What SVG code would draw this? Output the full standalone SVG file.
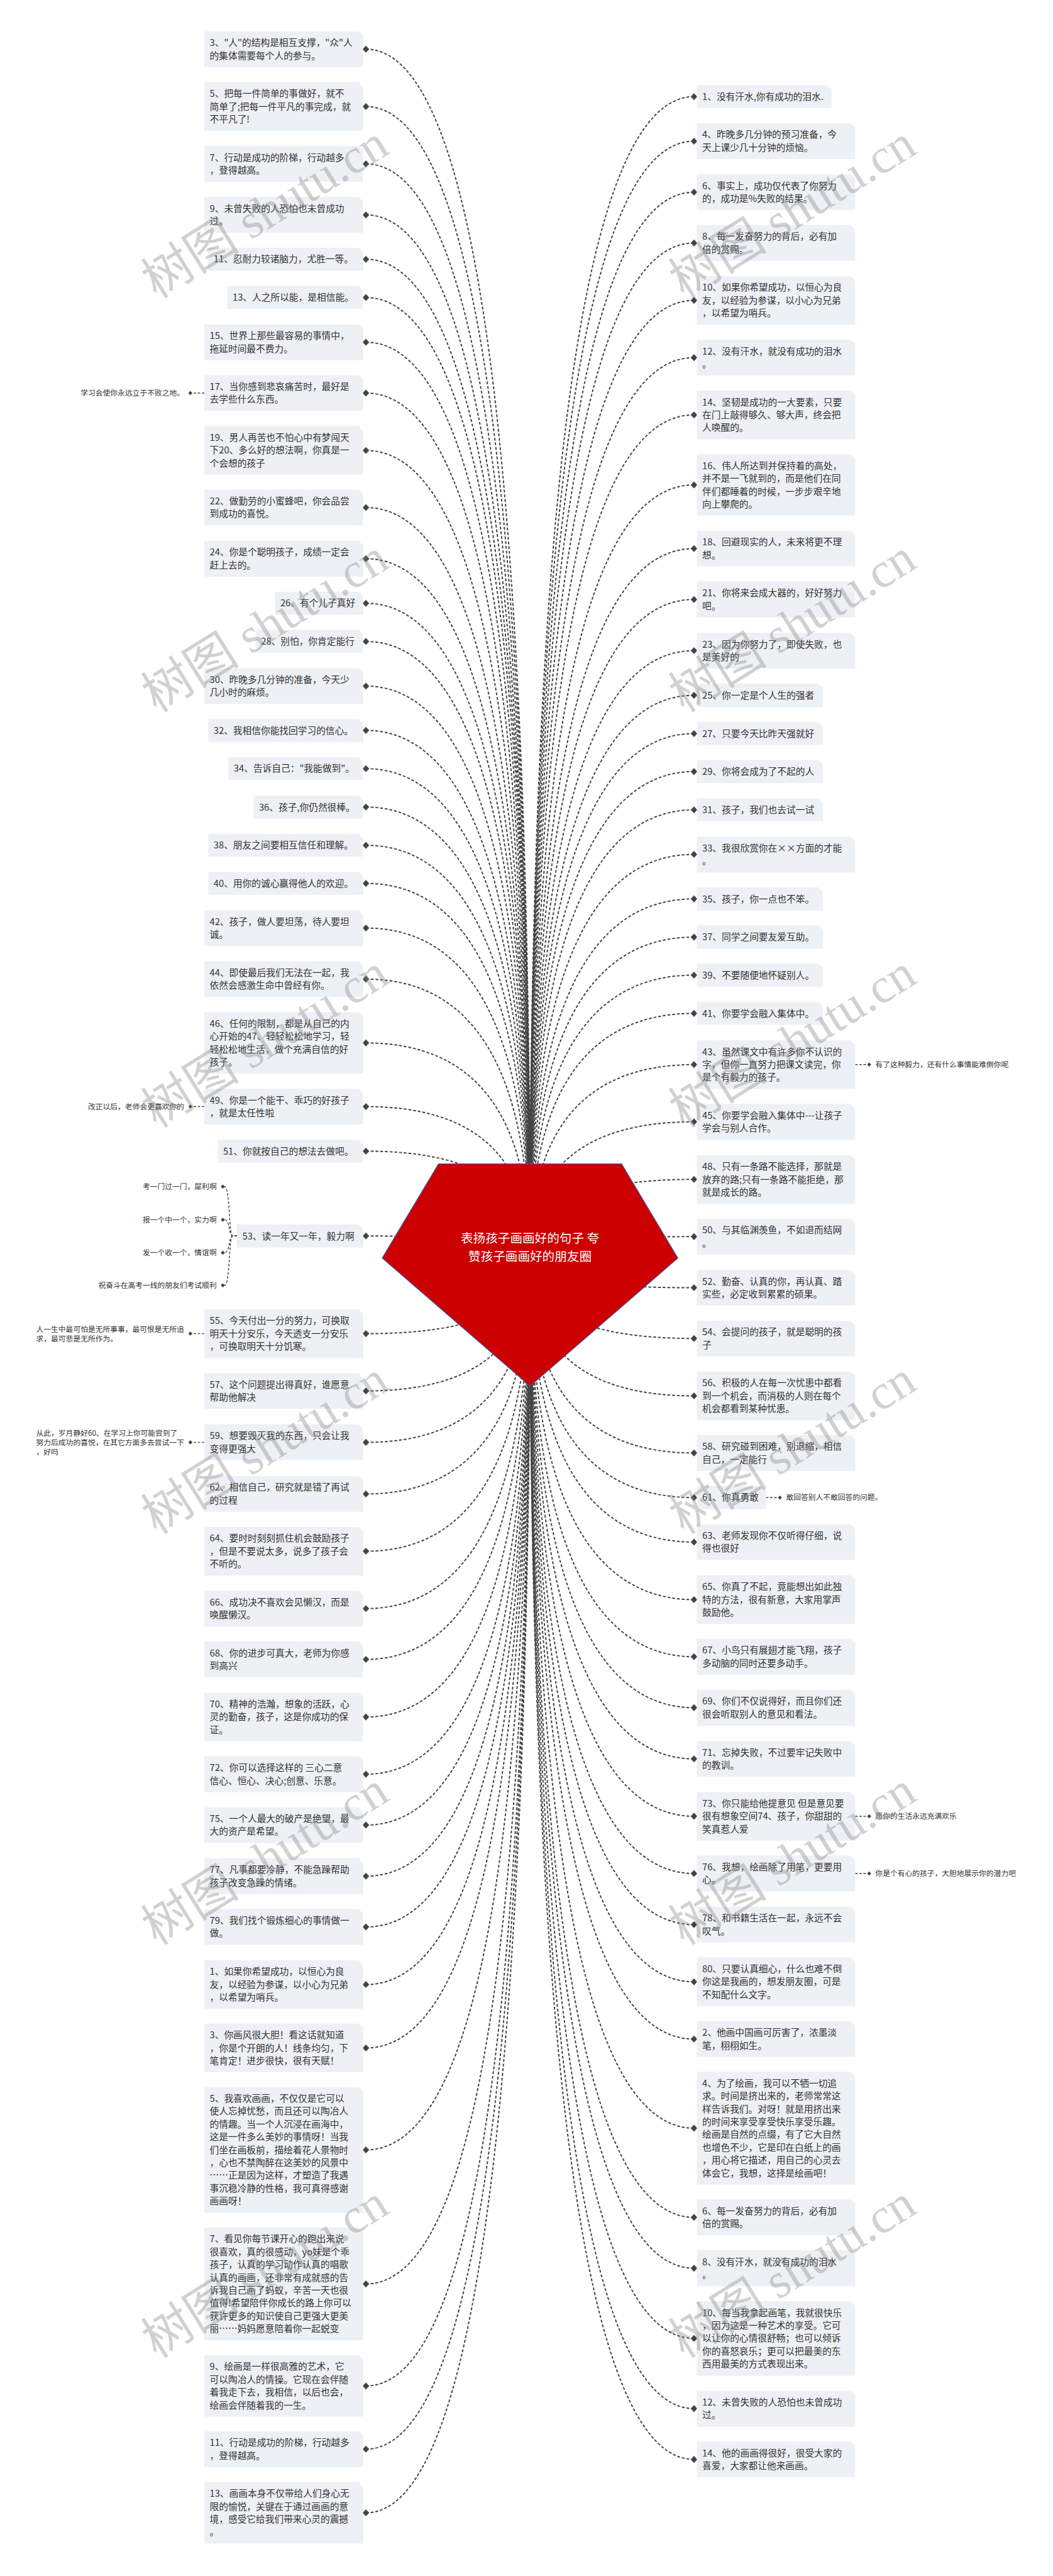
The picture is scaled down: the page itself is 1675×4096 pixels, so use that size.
<svg xmlns="http://www.w3.org/2000/svg" xmlns:xlink="http://www.w3.org/1999/xlink" width="1675" height="4096" viewBox="0 0 1675 4096">
<style>
.n{fill:#edf0f4}
text{font-family:"Noto Sans CJK SC","Noto Sans",sans-serif;fill:#333}
.t{font-size:22.5px}
.s{font-size:18px}
.c{fill:none;stroke:#444;stroke-width:3;stroke-dasharray:7 4.5}
.sc{fill:none;stroke:#444;stroke-width:2.2;stroke-dasharray:6 4}
.dm{fill:#444}
.ti{font-size:30px;fill:#fff}
.wm text{font-family:"Liberation Serif","Noto Sans CJK SC",serif;font-size:120px;fill:#888;opacity:.38}
</style>
<defs>
<path id="d" d="M-8 0L0-8.5L8 0L0 8.5Z"/>
<path id="sd" d="M-5 0L0-5L5 0L0 5Z"/>
</defs>
<rect width="1675" height="4096" fill="#fff"/>
<g transform="scale(0.654)">
<g id="connectors" class="c">
<path d="M890 119.5Q1289 119.5 1289 3059"/><path d="M890 259Q1289 259 1289 3059"/><path d="M890 398.5Q1289 398.5 1289 3059"/><path d="M890 522.5Q1289 522.5 1289 3059"/><path d="M890 630.3Q1289 630.3 1289 3059"/><path d="M890 723.4Q1289 723.4 1289 3059"/><path d="M890 832Q1289 832 1289 3059"/><path d="M890 955.6Q1289 955.6 1289 3059"/><path d="M890 1095.2Q1289 1095.2 1289 3059"/><path d="M890 1234Q1289 1234 1289 3059"/><path d="M890 1358.4Q1289 1358.4 1289 3059"/><path d="M890 1466.7Q1289 1466.7 1289 3059"/><path d="M890 1559.5Q1289 1559.5 1289 3059"/><path d="M890 1668.1Q1289 1668.1 1289 3059"/><path d="M890 1775.8Q1289 1775.8 1289 3059"/><path d="M890 1868.8Q1289 1868.8 1289 3059"/><path d="M890 1962.2Q1289 1962.2 1289 3059"/><path d="M890 2055.2Q1289 2055.2 1289 3059"/><path d="M890 2147.8Q1289 2147.8 1289 3059"/><path d="M890 2256.3Q1289 2256.3 1289 3059"/><path d="M890 2380.5Q1289 2380.5 1289 3059"/><path d="M890 2535.7Q1289 2535.7 1289 3059"/><path d="M890 2690.5Q1289 2690.5 1289 3059"/><path d="M890 2798.8Q1289 2798.8 1289 3059"/><path d="M890 3005Q1289 3005 1289 3059"/><path d="M890 3242.5Q1289 3242.5 1289 3059"/><path d="M890 3381.8Q1289 3381.8 1289 3059"/><path d="M890 3506.7Q1289 3506.7 1289 3059"/><path d="M890 3632.2Q1289 3632.2 1289 3059"/><path d="M890 3771.4Q1289 3771.4 1289 3059"/><path d="M890 3910.9Q1289 3910.9 1289 3059"/><path d="M890 4034.5Q1289 4034.5 1289 3059"/><path d="M890 4174.5Q1289 4174.5 1289 3059"/><path d="M890 4313.6Q1289 4313.6 1289 3059"/><path d="M890 4437.2Q1289 4437.2 1289 3059"/><path d="M890 4561.5Q1289 4561.5 1289 3059"/><path d="M890 4685.1Q1289 4685.1 1289 3059"/><path d="M890 4825Q1289 4825 1289 3059"/><path d="M890 4979.2Q1289 4979.2 1289 3059"/><path d="M890 5227Q1289 5227 1289 3059"/><path d="M890 5552.9Q1289 5552.9 1289 3059"/><path d="M890 5801Q1289 5801 1289 3059"/><path d="M890 5954.6Q1289 5954.6 1289 3059"/><path d="M890 6109.4Q1289 6109.4 1289 3059"/>
<path d="M1688 235Q1289 235 1289 3059"/><path d="M1688 343.2Q1289 343.2 1289 3059"/><path d="M1688 467.2Q1289 467.2 1289 3059"/><path d="M1688 590.8Q1289 590.8 1289 3059"/><path d="M1688 730.3Q1289 730.3 1289 3059"/><path d="M1688 869.5Q1289 869.5 1289 3059"/><path d="M1688 1008.7Q1289 1008.7 1289 3059"/><path d="M1688 1179Q1289 1179 1289 3059"/><path d="M1688 1333.8Q1289 1333.8 1289 3059"/><path d="M1688 1457.4Q1289 1457.4 1289 3059"/><path d="M1688 1581.9Q1289 1581.9 1289 3059"/><path d="M1688 1690.5Q1289 1690.5 1289 3059"/><path d="M1688 1783.6Q1289 1783.6 1289 3059"/><path d="M1688 1876Q1289 1876 1289 3059"/><path d="M1688 1969Q1289 1969 1289 3059"/><path d="M1688 2077.3Q1289 2077.3 1289 3059"/><path d="M1688 2185.5Q1289 2185.5 1289 3059"/><path d="M1688 2278.4Q1289 2278.4 1289 3059"/><path d="M1688 2370.8Q1289 2370.8 1289 3059"/><path d="M1688 2463.8Q1289 2463.8 1289 3059"/><path d="M1688 2588.4Q1289 2588.4 1289 3059"/><path d="M1688 2727.5Q1289 2727.5 1289 3059"/><path d="M1688 2867.4Q1289 2867.4 1289 3059"/><path d="M1688 3006.6Q1289 3006.6 1289 3059"/><path d="M1688 3130.8Q1289 3130.8 1289 3059"/><path d="M1688 3254.2Q1289 3254.2 1289 3059"/><path d="M1688 3393.8Q1289 3393.8 1289 3059"/><path d="M1688 3532.6Q1289 3532.6 1289 3059"/><path d="M1688 3641Q1289 3641 1289 3059"/><path d="M1688 3749.2Q1289 3749.2 1289 3059"/><path d="M1688 3889.1Q1289 3889.1 1289 3059"/><path d="M1688 4028Q1289 4028 1289 3059"/><path d="M1688 4151.9Q1289 4151.9 1289 3059"/><path d="M1688 4276.3Q1289 4276.3 1289 3059"/><path d="M1688 4415.8Q1289 4415.8 1289 3059"/><path d="M1688 4555Q1289 4555 1289 3059"/><path d="M1688 4679.2Q1289 4679.2 1289 3059"/><path d="M1688 4818.4Q1289 4818.4 1289 3059"/><path d="M1688 4957.6Q1289 4957.6 1289 3059"/><path d="M1688 5174.2Q1289 5174.2 1289 3059"/><path d="M1688 5391.1Q1289 5391.1 1289 3059"/><path d="M1688 5514.7Q1289 5514.7 1289 3059"/><path d="M1688 5685.3Q1289 5685.3 1289 3059"/><path d="M1688 5856Q1289 5856 1289 3059"/><path d="M1688 5979.6Q1289 5979.6 1289 3059"/>
<g class="sc">
<path d="M497 955.6H467"/><path d="M497 2690.5H467"/><path d="M497 3242.5H467"/><path d="M497 3506.7H467"/>
<path d="M576.5 3005H566C556 3005 560 2885 546 2885"/><path d="M576.5 3005H566C556 3005 560 2965.7 546 2965.7"/><path d="M576.5 3005H566C556 3005 560 3045.7 546 3045.7"/><path d="M576.5 3005H566C556 3005 560 3125 546 3125"/>
<path d="M2080 2588.4H2110"/><path d="M1863 3641H1893"/><path d="M2080 4415.8H2110"/><path d="M2080 4555H2110"/>
</g>
<g class="dm" stroke="none">
<use href="#d" x="890" y="119.5"/><use href="#d" x="890" y="259"/><use href="#d" x="890" y="398.5"/><use href="#d" x="890" y="522.5"/><use href="#d" x="890" y="630.3"/><use href="#d" x="890" y="723.4"/><use href="#d" x="890" y="832"/><use href="#d" x="890" y="955.6"/><use href="#d" x="890" y="1095.2"/><use href="#d" x="890" y="1234"/><use href="#d" x="890" y="1358.4"/><use href="#d" x="890" y="1466.7"/><use href="#d" x="890" y="1559.5"/><use href="#d" x="890" y="1668.1"/><use href="#d" x="890" y="1775.8"/><use href="#d" x="890" y="1868.8"/><use href="#d" x="890" y="1962.2"/><use href="#d" x="890" y="2055.2"/><use href="#d" x="890" y="2147.8"/><use href="#d" x="890" y="2256.3"/><use href="#d" x="890" y="2380.5"/><use href="#d" x="890" y="2535.7"/><use href="#d" x="890" y="2690.5"/><use href="#d" x="890" y="2798.8"/><use href="#d" x="890" y="3005"/><use href="#d" x="890" y="3242.5"/><use href="#d" x="890" y="3381.8"/><use href="#d" x="890" y="3506.7"/><use href="#d" x="890" y="3632.2"/><use href="#d" x="890" y="3771.4"/><use href="#d" x="890" y="3910.9"/><use href="#d" x="890" y="4034.5"/><use href="#d" x="890" y="4174.5"/><use href="#d" x="890" y="4313.6"/><use href="#d" x="890" y="4437.2"/><use href="#d" x="890" y="4561.5"/><use href="#d" x="890" y="4685.1"/><use href="#d" x="890" y="4825"/><use href="#d" x="890" y="4979.2"/><use href="#d" x="890" y="5227"/><use href="#d" x="890" y="5552.9"/><use href="#d" x="890" y="5801"/><use href="#d" x="890" y="5954.6"/><use href="#d" x="890" y="6109.4"/>
<use href="#d" x="1688" y="235"/><use href="#d" x="1688" y="343.2"/><use href="#d" x="1688" y="467.2"/><use href="#d" x="1688" y="590.8"/><use href="#d" x="1688" y="730.3"/><use href="#d" x="1688" y="869.5"/><use href="#d" x="1688" y="1008.7"/><use href="#d" x="1688" y="1179"/><use href="#d" x="1688" y="1333.8"/><use href="#d" x="1688" y="1457.4"/><use href="#d" x="1688" y="1581.9"/><use href="#d" x="1688" y="1690.5"/><use href="#d" x="1688" y="1783.6"/><use href="#d" x="1688" y="1876"/><use href="#d" x="1688" y="1969"/><use href="#d" x="1688" y="2077.3"/><use href="#d" x="1688" y="2185.5"/><use href="#d" x="1688" y="2278.4"/><use href="#d" x="1688" y="2370.8"/><use href="#d" x="1688" y="2463.8"/><use href="#d" x="1688" y="2588.4"/><use href="#d" x="1688" y="2727.5"/><use href="#d" x="1688" y="2867.4"/><use href="#d" x="1688" y="3006.6"/><use href="#d" x="1688" y="3130.8"/><use href="#d" x="1688" y="3254.2"/><use href="#d" x="1688" y="3393.8"/><use href="#d" x="1688" y="3532.6"/><use href="#d" x="1688" y="3641"/><use href="#d" x="1688" y="3749.2"/><use href="#d" x="1688" y="3889.1"/><use href="#d" x="1688" y="4028"/><use href="#d" x="1688" y="4151.9"/><use href="#d" x="1688" y="4276.3"/><use href="#d" x="1688" y="4415.8"/><use href="#d" x="1688" y="4555"/><use href="#d" x="1688" y="4679.2"/><use href="#d" x="1688" y="4818.4"/><use href="#d" x="1688" y="4957.6"/><use href="#d" x="1688" y="5174.2"/><use href="#d" x="1688" y="5391.1"/><use href="#d" x="1688" y="5514.7"/><use href="#d" x="1688" y="5685.3"/><use href="#d" x="1688" y="5856"/><use href="#d" x="1688" y="5979.6"/>
<use href="#sd" x="463" y="955.6"/><use href="#sd" x="463" y="2690.5"/><use href="#sd" x="463" y="3242.5"/><use href="#sd" x="463" y="3506.7"/>
<use href="#sd" x="542" y="2885"/><use href="#sd" x="542" y="2965.7"/><use href="#sd" x="542" y="3045.7"/><use href="#sd" x="542" y="3125"/>
<use href="#sd" x="2114" y="2588.4"/><use href="#sd" x="1897" y="3641"/><use href="#sd" x="2114" y="4415.8"/><use href="#sd" x="2114" y="4555"/>
</g>
</g>

<g id="root">
<polygon points="1066.6,2829.7 1511.8,2829.7 1648.7,3058.7 1289.2,3370 929.7,3058.7" fill="#cc0000" stroke="#4b4f9c" stroke-width="2"/>
<text class="ti" x="1289" y="3021" text-anchor="middle">表扬孩子画画好的句子  夸</text>
<text class="ti" x="1289" y="3066" text-anchor="middle">赞孩子画画好的朋友圈</text>
</g>

<g id="left-nodes" class="t">
<g id="n-L3"><path class="n" d="M497 76H872L883 87V163H497Z"/><text x="510" y="112">3、"人"的结构是相互支撑，"众"人<tspan x="510" dy="31.2">的集体需要每个人的参与。</tspan></text></g>
<g id="n-L5"><path class="n" d="M497 200H872L883 211V318H497Z"/><text x="510" y="235.8">5、把每一件简单的事做好，就不<tspan x="510" dy="31.2">简单了;把每一件平凡的事完成，就</tspan><tspan x="510" dy="31.2">不平凡了!</tspan></text></g>
<g id="n-L7"><path class="n" d="M497 355H872L883 366V442H497Z"/><text x="510" y="390.9">7、行动是成功的阶梯，行动越多<tspan x="510" dy="31.2">，登得越高。</tspan></text></g>
<g id="n-L9"><path class="n" d="M497 479H872L883 490V566H497Z"/><text x="510" y="514.9">9、未曾失败的人恐怕也未曾成功<tspan x="510" dy="31.2">过。</tspan></text></g>
<g id="n-L11"><path class="n" d="M506.6 602.5H872L883 613.5V658H506.6Z"/><text x="519.6" y="638.3">11、忍耐力较诸脑力，尤胜一等。</text></g>
<g id="n-L13"><path class="n" d="M552.8 695.5H872L883 706.5V751.3H552.8Z"/><text x="565.8" y="731.4">13、人之所以能，是相信能。</text></g>
<g id="n-L15"><path class="n" d="M497 788.5H872L883 799.5V875.5H497Z"/><text x="510" y="824.4">15、世界上那些最容易的事情中，<tspan x="510" dy="31.2">拖延时间最不费力。</tspan></text></g>
<g id="n-L17"><path class="n" d="M497 912H872L883 923V999H497Z"/><text x="510" y="948">17、当你感到悲哀痛苦时，最好是<tspan x="510" dy="31.2">去学些什么东西。</tspan></text><text class="s" x="448" y="962" text-anchor="end">学习会使你永远立于不败之地。</text></g>
<g id="n-L19"><path class="n" d="M497 1036H872L883 1047V1154H497Z"/><text x="510" y="1072">19、男人再苦也不怕心中有梦闯天<tspan x="510" dy="31.2">下20、多么好的想法啊，你真是一</tspan><tspan x="510" dy="31.2">个会想的孩子</tspan></text></g>
<g id="n-L22"><path class="n" d="M497 1190.5H872L883 1201.5V1277.5H497Z"/><text x="510" y="1226.4">22、做勤劳的小蜜蜂吧，你会品尝<tspan x="510" dy="31.2">到成功的喜悦。</tspan></text></g>
<g id="n-L24"><path class="n" d="M497 1315H872L883 1326V1402H497Z"/><text x="510" y="1350.8">24、你是个聪明孩子，成绩一定会<tspan x="510" dy="31.2">赶上去的。</tspan></text></g>
<g id="n-L26"><path class="n" d="M668.8 1439H872L883 1450V1494.5H668.8Z"/><text x="681.8" y="1474.7">26、有个儿子真好</text></g>
<g id="n-L28"><path class="n" d="M621.9 1531.5H872L883 1542.5V1587.5H621.9Z"/><text x="634.9" y="1567.5">28、别怕，你肯定能行</text></g>
<g id="n-L30"><path class="n" d="M497 1624.5H872L883 1635.5V1711.5H497Z"/><text x="510" y="1660.5">30、昨晚多几分钟的准备，今天少<tspan x="510" dy="31.2">几小时的麻烦。</tspan></text></g>
<g id="n-L32"><path class="n" d="M506.6 1748H872L883 1759V1803.5H506.6Z"/><text x="519.6" y="1783.8">32、我相信你能找回学习的信心。</text></g>
<g id="n-L34"><path class="n" d="M555.6 1841H872L883 1852V1896.5H555.6Z"/><text x="568.6" y="1876.8">34、告诉自己："我能做到"。</text></g>
<g id="n-L36"><path class="n" d="M616.9 1934.5H872L883 1945.5V1990H616.9Z"/><text x="629.9" y="1970.2">36、孩子,你仍然很棒。</text></g>
<g id="n-L38"><path class="n" d="M506.6 2027.5H872L883 2038.5V2083H506.6Z"/><text x="519.6" y="2063.2">38、朋友之间要相互信任和理解。</text></g>
<g id="n-L40"><path class="n" d="M506.6 2120H872L883 2131V2175.5H506.6Z"/><text x="519.6" y="2155.8">40、用你的诚心赢得他人的欢迎。</text></g>
<g id="n-L42"><path class="n" d="M497 2213H872L883 2224V2300H497Z"/><text x="510" y="2248.7">42、孩子，做人要坦荡，待人要坦<tspan x="510" dy="31.2">诚。</tspan></text></g>
<g id="n-L44"><path class="n" d="M497 2337H872L883 2348V2424H497Z"/><text x="510" y="2372.9">44、即使最后我们无法在一起，我<tspan x="510" dy="31.2">依然会感激生命中曾经有你。</tspan></text></g>
<g id="n-L46"><path class="n" d="M497 2461H872L883 2472V2610.5H497Z"/><text x="510" y="2496.9">46、任何的限制，都是从自己的内<tspan x="510" dy="31.2">心开始的47、轻轻松松地学习，轻</tspan><tspan x="510" dy="31.2">轻松松地生活，做个充满自信的好</tspan><tspan x="510" dy="31.2">孩子。</tspan></text></g>
<g id="n-L49"><path class="n" d="M497 2647H872L883 2658V2734H497Z"/><text x="510" y="2682.9">49、你是一个能干、乖巧的好孩子<tspan x="510" dy="31.2">，就是太任性啦</tspan></text><text class="s" x="448" y="2697" text-anchor="end">改正以后，老师会更喜欢你的</text></g>
<g id="n-L51"><path class="n" d="M529.7 2771H872L883 2782V2826.5H529.7Z"/><text x="542.7" y="2806.8">51、你就按自己的想法去做吧。</text></g>
<g id="n-L53"><path class="n" d="M576.5 2977H872L883 2988V3033H576.5Z"/><text x="589.5" y="3013">53、读一年又一年，毅力啊</text>
<text class="s" text-anchor="end" x="527" y="2891.5">考一门过一门，犀利啊</text><text class="s" text-anchor="end" x="527" y="2972.2">报一个中一个，实力啊</text><text class="s" text-anchor="end" x="527" y="3052.2">发一个收一个，情谊啊</text><text class="s" text-anchor="end" x="527" y="3131.5">祝奋斗在高考一线的朋友们考试顺利</text></g>
<g id="n-L55"><path class="n" d="M497 3183.5H872L883 3194.5V3301.5H497Z"/><text x="510" y="3219.3">55、今天付出一分的努力，可换取<tspan x="510" dy="31.2">明天十分安乐，今天透支一分安乐</tspan><tspan x="510" dy="31.2">，可换取明天十分饥寒。</tspan></text><text class="s" x="88" y="3238">人一生中最可怕是无所事事，最可恨是无所追<tspan x="88" dy="22.8">求，最可悲是无所作为。</tspan></text></g>
<g id="n-L57"><path class="n" d="M497 3338.5H872L883 3349.5V3425H497Z"/><text x="510" y="3374.2">57、这个问题提出得真好，谁愿意<tspan x="510" dy="31.2">帮助他解决</tspan></text></g>
<g id="n-L59"><path class="n" d="M497 3463H872L883 3474V3550H497Z"/><text x="510" y="3499.1">59、想要毁灭我的东西，只会让我<tspan x="510" dy="31.2">变得更强大</tspan></text><text class="s" x="88" y="3491">从此，岁月静好60、在学习上你可能尝到了<tspan x="88" dy="22.8">努力后成功的喜悦，在其它方面多去尝试一下</tspan><tspan x="88" dy="22.8">，好吗</tspan></text></g>
<g id="n-L62"><path class="n" d="M497 3589H872L883 3600V3675.5H497Z"/><text x="510" y="3624.6">62、相信自己，研究就是错了再试<tspan x="510" dy="31.2">的过程</tspan></text></g>
<g id="n-L64"><path class="n" d="M497 3712.5H872L883 3723.5V3830.5H497Z"/><text x="510" y="3748.2">64、要时时刻刻抓住机会鼓励孩子<tspan x="510" dy="31.2">，但是不要说太多，说多了孩子会</tspan><tspan x="510" dy="31.2">不听的。</tspan></text></g>
<g id="n-L66"><path class="n" d="M497 3867.5H872L883 3878.5V3954.5H497Z"/><text x="510" y="3903.3">66、成功决不喜欢会见懒汉，而是<tspan x="510" dy="31.2">唤醒懒汉。</tspan></text></g>
<g id="n-L68"><path class="n" d="M497 3991H872L883 4002V4078H497Z"/><text x="510" y="4026.9">68、你的进步可真大，老师为你感<tspan x="510" dy="31.2">到高兴</tspan></text></g>
<g id="n-L70"><path class="n" d="M497 4115.5H872L883 4126.5V4233.5H497Z"/><text x="510" y="4151.3">70、精神的浩瀚，想象的活跃，心<tspan x="510" dy="31.2">灵的勤奋，孩子，这是你成功的保</tspan><tspan x="510" dy="31.2">证。</tspan></text></g>
<g id="n-L72"><path class="n" d="M497 4270H872L883 4281V4357H497Z"/><text x="510" y="4306">72、你可以选择这样的 三心二意<tspan x="510" dy="31.2">信心、恒心、决心;创意、乐意。</tspan></text></g>
<g id="n-L75"><path class="n" d="M497 4394H872L883 4405V4480.5H497Z"/><text x="510" y="4429.6">75、一个人最大的破产是绝望，最<tspan x="510" dy="31.2">大的资产是希望。</tspan></text></g>
<g id="n-L77"><path class="n" d="M497 4518H872L883 4529V4605H497Z"/><text x="510" y="4553.9">77、凡事都要冷静，不能急躁帮助<tspan x="510" dy="31.2">孩子改变急躁的情绪。</tspan></text></g>
<g id="n-L79"><path class="n" d="M497 4641.5H872L883 4652.5V4728.5H497Z"/><text x="510" y="4677.5">79、我们找个锻炼细心的事情做一<tspan x="510" dy="31.2">做。</tspan></text></g>
<g id="n-L1b"><path class="n" d="M497 4766H872L883 4777V4884H497Z"/><text x="510" y="4801.8">1、如果你希望成功，以恒心为良<tspan x="510" dy="31.2">友，以经验为参谋，以小心为兄弟</tspan><tspan x="510" dy="31.2">，以希望为哨兵。</tspan></text></g>
<g id="n-L3b"><path class="n" d="M497 4920H872L883 4931V5038H497Z"/><text x="510" y="4956">3、你画风很大胆！看这话就知道<tspan x="510" dy="31.2">，你是个开朗的人！线条均匀，下</tspan><tspan x="510" dy="31.2">笔肯定！进步很快，很有天赋！</tspan></text></g>
<g id="n-L5b"><path class="n" d="M497 5074.5H872L883 5085.5V5379.5H497Z"/><text x="510" y="5110.2">5、我喜欢画画，不仅仅是它可以<tspan x="510" dy="31.2">使人忘掉忧愁，而且还可以陶冶人</tspan><tspan x="510" dy="31.2">的情趣。当一个人沉浸在画海中，</tspan><tspan x="510" dy="31.2">这是一件多么美妙的事情呀！当我</tspan><tspan x="510" dy="31.2">们坐在画板前，描绘着花人景物时</tspan><tspan x="510" dy="31.2">，心也不禁陶醉在这美妙的风景中</tspan><tspan x="510" dy="31.2">……正是因为这样，才塑造了我遇</tspan><tspan x="510" dy="31.2">事沉稳冷静的性格，我可真得感谢</tspan><tspan x="510" dy="31.2">画画呀！</tspan></text></g>
<g id="n-L7b"><path class="n" d="M497 5416H872L883 5427V5690H497Z"/><text x="510" y="5451.7">7、看见你每节课开心的跑出来说<tspan x="510" dy="31.2">很喜欢，真的很感动，yo妹是个乖</tspan><tspan x="510" dy="31.2">孩子，认真的学习动作认真的唱歌</tspan><tspan x="510" dy="31.2">认真的画画，还非常有成就感的告</tspan><tspan x="510" dy="31.2">诉我自己画了蚂蚁，辛苦一天也很</tspan><tspan x="510" dy="31.2">值得!希望陪伴你成长的路上你可以</tspan><tspan x="510" dy="31.2">获许更多的知识使自己更强大更美</tspan><tspan x="510" dy="31.2">丽……妈妈愿意陪着你一起蜕变</tspan></text></g>
<g id="n-L9b"><path class="n" d="M497 5726.5H872L883 5737.5V5875.5H497Z"/><text x="510" y="5762.2">9、绘画是一样很高雅的艺术，它<tspan x="510" dy="31.2">可以陶冶人的情操。它现在会伴随</tspan><tspan x="510" dy="31.2">着我走下去，我相信，以后也会，</tspan><tspan x="510" dy="31.2">绘画会伴随着我的一生。</tspan></text></g>
<g id="n-L11b"><path class="n" d="M497 5911H872L883 5922V5998H497Z"/><text x="510" y="5947">11、行动是成功的阶梯，行动越多<tspan x="510" dy="31.2">，登得越高。</tspan></text></g>
<g id="n-L13b"><path class="n" d="M497 6035H872L883 6046V6184H497Z"/><text x="510" y="6070.6">13、画画本身不仅带给人们身心无<tspan x="510" dy="31.2">限的愉悦，关键在于通过画画的意</tspan><tspan x="510" dy="31.2">境，感受它给我们带来心灵的震撼</tspan><tspan x="510" dy="31.2">。</tspan></text></g>
</g>

<g id="right-nodes" class="t">
<g id="n-R1"><path class="n" d="M1695 207H2011.6L2022.6 218V263H1695Z"/><text x="1708" y="243">1、没有汗水,你有成功的泪水.</text></g>
<g id="n-R4"><path class="n" d="M1695 300H2069L2080 311V386.5H1695Z"/><text x="1708" y="335.6">4、昨晚多几分钟的预习准备，今<tspan x="1708" dy="31.2">天上课少几十分钟的烦恼。</tspan></text></g>
<g id="n-R6"><path class="n" d="M1695 424H2069L2080 435V510.5H1695Z"/><text x="1708" y="459.6">6、事实上，成功仅代表了你努力<tspan x="1708" dy="31.2">的，成功是%失败的结果。</tspan></text></g>
<g id="n-R8"><path class="n" d="M1695 547.5H2069L2080 558.5V634H1695Z"/><text x="1708" y="583.2">8、每一发奋努力的背后，必有加<tspan x="1708" dy="31.2">倍的赏赐。</tspan></text></g>
<g id="n-R10"><path class="n" d="M1695 671.5H2069L2080 682.5V789.5H1695Z"/><text x="1708" y="707.1">10、如果你希望成功，以恒心为良<tspan x="1708" dy="31.2">友，以经验为参谋，以小心为兄弟</tspan><tspan x="1708" dy="31.2">，以希望为哨兵。</tspan></text></g>
<g id="n-R12"><path class="n" d="M1695 826H2069L2080 837V913H1695Z"/><text x="1708" y="861.9">12、没有汗水，就没有成功的泪水<tspan x="1708" dy="31.2">。</tspan></text></g>
<g id="n-R14"><path class="n" d="M1695 949.5H2069L2080 960.5V1068H1695Z"/><text x="1708" y="985.5">14、坚韧是成功的一大要素，只要<tspan x="1708" dy="31.2">在门上敲得够久、够大声，终会把</tspan><tspan x="1708" dy="31.2">人唤醒的。</tspan></text></g>
<g id="n-R16"><path class="n" d="M1695 1104.5H2069L2080 1115.5V1253.5H1695Z"/><text x="1708" y="1140.2">16、伟人所达到并保持着的高处，<tspan x="1708" dy="31.2">并不是一飞就到的，而是他们在同</tspan><tspan x="1708" dy="31.2">伴们都睡着的时候，一步步艰辛地</tspan><tspan x="1708" dy="31.2">向上攀爬的。</tspan></text></g>
<g id="n-R18"><path class="n" d="M1695 1290.5H2069L2080 1301.5V1377H1695Z"/><text x="1708" y="1326.2">18、回避现实的人，未来将更不理<tspan x="1708" dy="31.2">想。</tspan></text></g>
<g id="n-R21"><path class="n" d="M1695 1414H2069L2080 1425V1501H1695Z"/><text x="1708" y="1449.8">21、你将来会成大器的，好好努力<tspan x="1708" dy="31.2">吧。</tspan></text></g>
<g id="n-R23"><path class="n" d="M1695 1538.5H2069L2080 1549.5V1625.5H1695Z"/><text x="1708" y="1574.3">23、因为你努力了，即使失败，也<tspan x="1708" dy="31.2">是美好的</tspan></text></g>
<g id="n-R25"><path class="n" d="M1695 1662.5H1990.6L2001.6 1673.5V1718.5H1695Z"/><text x="1708" y="1698.5">25、你一定是个人生的强者</text></g>
<g id="n-R27"><path class="n" d="M1695 1756H1990.6L2001.6 1767V1811.5H1695Z"/><text x="1708" y="1791.6">27、只要今天比昨天强就好</text></g>
<g id="n-R29"><path class="n" d="M1695 1848H1990.6L2001.6 1859V1904H1695Z"/><text x="1708" y="1884">29、你将会成为了不起的人</text></g>
<g id="n-R31"><path class="n" d="M1695 1941H1990.6L2001.6 1952V1997H1695Z"/><text x="1708" y="1977">31、孩子，我们也去试一试</text></g>
<g id="n-R33"><path class="n" d="M1695 2034H2069L2080 2045V2121H1695Z"/><text x="1708" y="2069.7">33、我很欣赏你在××方面的才能<tspan x="1708" dy="31.2">。</tspan></text></g>
<g id="n-R35"><path class="n" d="M1695 2157.5H1990.6L2001.6 2168.5V2213.5H1695Z"/><text x="1708" y="2193.5">35、孩子，你一点也不笨。</text></g>
<g id="n-R37"><path class="n" d="M1695 2250.5H1990.6L2001.6 2261.5V2306.5H1695Z"/><text x="1708" y="2286.4">37、同学之间要友爱互助。</text></g>
<g id="n-R39"><path class="n" d="M1695 2343H1990.6L2001.6 2354V2398.5H1695Z"/><text x="1708" y="2378.8">39、不要随便地怀疑别人。</text></g>
<g id="n-R41"><path class="n" d="M1695 2436H1990.6L2001.6 2447V2491.5H1695Z"/><text x="1708" y="2471.8">41、你要学会融入集体中。</text></g>
<g id="n-R43"><path class="n" d="M1695 2529.5H2069L2080 2540.5V2647.5H1695Z"/><text x="1708" y="2565.2">43、虽然课文中有许多你不认识的<tspan x="1708" dy="31.2">字，但你一直努力把课文读完，你</tspan><tspan x="1708" dy="31.2">是个有毅力的孩子。</tspan></text><text class="s" x="2129" y="2595">有了这种毅力，还有什么事情能难倒你呢</text></g>
<g id="n-R45"><path class="n" d="M1695 2684H2069L2080 2695V2771H1695Z"/><text x="1708" y="2719.9">45、你要学会融入集体中---让孩子<tspan x="1708" dy="31.2">学会与别人合作。</tspan></text></g>
<g id="n-R48"><path class="n" d="M1695 2808.5H2069L2080 2819.5V2926.5H1695Z"/><text x="1708" y="2844.2">48、只有一条路不能选择，那就是<tspan x="1708" dy="31.2">放弃的路;只有一条路不能拒绝，那</tspan><tspan x="1708" dy="31.2">就是成长的路。</tspan></text></g>
<g id="n-R50"><path class="n" d="M1695 2963H2069L2080 2974V3050H1695Z"/><text x="1708" y="2999">50、与其临渊羡鱼，不如退而结网<tspan x="1708" dy="31.2">。</tspan></text></g>
<g id="n-R52"><path class="n" d="M1695 3087.5H2069L2080 3098.5V3174H1695Z"/><text x="1708" y="3123.2">52、勤奋、认真的你，再认真、踏<tspan x="1708" dy="31.2">实些，必定收到累累的硕果。</tspan></text></g>
<g id="n-R54"><path class="n" d="M1695 3211H2069L2080 3222V3297.5H1695Z"/><text x="1708" y="3246.6">54、会提问的孩子，就是聪明的孩<tspan x="1708" dy="31.2">子</tspan></text></g>
<g id="n-R56"><path class="n" d="M1695 3335H2069L2080 3346V3453H1695Z"/><text x="1708" y="3370.6">56、积极的人在每一次忧患中都看<tspan x="1708" dy="31.2">到一个机会，而消极的人则在每个</tspan><tspan x="1708" dy="31.2">机会都看到某种忧患。</tspan></text></g>
<g id="n-R58"><path class="n" d="M1695 3489H2069L2080 3500V3576H1695Z"/><text x="1708" y="3525">58、研究碰到困难，别退缩，相信<tspan x="1708" dy="31.2">自己，一定能行</tspan></text></g>
<g id="n-R61"><path class="n" d="M1695 3613H1852L1863 3624V3669H1695Z"/><text x="1708" y="3649">61、你真勇敢</text><text class="s" x="1912" y="3647.5">敢回答别人不敢回答的问题。</text></g>
<g id="n-R63"><path class="n" d="M1695 3706H2069L2080 3717V3792.5H1695Z"/><text x="1708" y="3741.6">63、老师发现你不仅听得仔细，说<tspan x="1708" dy="31.2">得也很好</tspan></text></g>
<g id="n-R65"><path class="n" d="M1695 3830H2069L2080 3841V3948H1695Z"/><text x="1708" y="3865.9">65、你真了不起，竟能想出如此独<tspan x="1708" dy="31.2">特的方法，很有新意，大家用掌声</tspan><tspan x="1708" dy="31.2">鼓励他。</tspan></text></g>
<g id="n-R67"><path class="n" d="M1695 3984.5H2069L2080 3995.5V4071.5H1695Z"/><text x="1708" y="4020.4">67、小鸟只有展翅才能飞翔，孩子<tspan x="1708" dy="31.2">多动脑的同时还要多动手。</tspan></text></g>
<g id="n-R69"><path class="n" d="M1695 4108.5H2069L2080 4119.5V4195.5H1695Z"/><text x="1708" y="4144.3">69、你们不仅说得好，而且你们还<tspan x="1708" dy="31.2">很会听取别人的意见和看法。</tspan></text></g>
<g id="n-R71"><path class="n" d="M1695 4233H2069L2080 4244V4320H1695Z"/><text x="1708" y="4268.7">71、忘掉失败，不过要牢记失败中<tspan x="1708" dy="31.2">的教训。</tspan></text></g>
<g id="n-R73"><path class="n" d="M1695 4357H2069L2080 4368V4475H1695Z"/><text x="1708" y="4392.6">73、你只能给他提意见 但是意见要<tspan x="1708" dy="31.2">很有想象空间74、孩子，你甜甜的</tspan><tspan x="1708" dy="31.2">笑真惹人爱</tspan></text><text class="s" x="2129" y="4422.3">愿你的生活永远充满欢乐</text></g>
<g id="n-R76"><path class="n" d="M1695 4511.5H2069L2080 4522.5V4598.5H1695Z"/><text x="1708" y="4547.4">76、我想，绘画除了用笔，更要用<tspan x="1708" dy="31.2">心。</tspan></text><text class="s" x="2129" y="4561.5">你是个有心的孩子，大胆地展示你的潜力吧</text></g>
<g id="n-R78"><path class="n" d="M1695 4636H2069L2080 4647V4722.5H1695Z"/><text x="1708" y="4671.6">78、和书籍生活在一起，永远不会<tspan x="1708" dy="31.2">叹气。</tspan></text></g>
<g id="n-R80"><path class="n" d="M1695 4759.5H2069L2080 4770.5V4877.5H1695Z"/><text x="1708" y="4795.2">80、只要认真细心，什么也难不倒<tspan x="1708" dy="31.2">你这是我画的，想发朋友圈，可是</tspan><tspan x="1708" dy="31.2">不知配什么文字。</tspan></text></g>
<g id="n-R2b"><path class="n" d="M1695 4914H2069L2080 4925V5001H1695Z"/><text x="1708" y="4950">2、他画中国画可厉害了，浓墨淡<tspan x="1708" dy="31.2">笔，栩栩如生。</tspan></text></g>
<g id="n-R4b"><path class="n" d="M1695 5037H2069L2080 5048V5311.5H1695Z"/><text x="1708" y="5073">4、为了绘画，我可以不牺一切追<tspan x="1708" dy="31.2">求。时间是挤出来的，老师常常这</tspan><tspan x="1708" dy="31.2">样告诉我们。对呀！就是用挤出来</tspan><tspan x="1708" dy="31.2">的时间来享受享受快乐享受乐趣。</tspan><tspan x="1708" dy="31.2">绘画是自然的点缀，有了它大自然</tspan><tspan x="1708" dy="31.2">也增色不少，它是印在白纸上的画</tspan><tspan x="1708" dy="31.2">，用心将它描述，用自己的心灵去</tspan><tspan x="1708" dy="31.2">体会它，我想，这择是绘画吧！</tspan></text></g>
<g id="n-R6b"><path class="n" d="M1695 5347.5H2069L2080 5358.5V5434.5H1695Z"/><text x="1708" y="5383.5">6、每一发奋努力的背后，必有加<tspan x="1708" dy="31.2">倍的赏赐。</tspan></text></g>
<g id="n-R8b"><path class="n" d="M1695 5471H2069L2080 5482V5558H1695Z"/><text x="1708" y="5507.1">8、没有汗水，就没有成功的泪水<tspan x="1708" dy="31.2">。</tspan></text></g>
<g id="n-R10b"><path class="n" d="M1695 5595H2069L2080 5606V5776H1695Z"/><text x="1708" y="5630.9">10、每当我拿起画笔，我就很快乐<tspan x="1708" dy="31.2">，因为这是一种艺术的享受。它可</tspan><tspan x="1708" dy="31.2">以让你的心情很舒畅；也可以倾诉</tspan><tspan x="1708" dy="31.2">你的喜怒哀乐；更可以把最美的东</tspan><tspan x="1708" dy="31.2">西用最美的方式表现出来。</tspan></text></g>
<g id="n-R12b"><path class="n" d="M1695 5812.5H2069L2080 5823.5V5899.5H1695Z"/><text x="1708" y="5848.4">12、未曾失败的人恐怕也未曾成功<tspan x="1708" dy="31.2">过。</tspan></text></g>
<g id="n-R14b"><path class="n" d="M1695 5936H2069L2080 5947V6023H1695Z"/><text x="1708" y="5972">14、他的画画得很好，很受大家的<tspan x="1708" dy="31.2">喜爱，大家都让他来画画。</tspan></text></g>
</g>

<g id="watermark" class="wm">
<text transform="translate(645 515) rotate(-32)" text-anchor="middle" y="40">树图 shutu.cn</text>
<text transform="translate(645 1522) rotate(-32)" text-anchor="middle" y="40">树图 shutu.cn</text>
<text transform="translate(645 2532) rotate(-32)" text-anchor="middle" y="40">树图 shutu.cn</text>
<text transform="translate(645 3520) rotate(-32)" text-anchor="middle" y="40">树图 shutu.cn</text>
<text transform="translate(645 4519) rotate(-32)" text-anchor="middle" y="40">树图 shutu.cn</text>
<text transform="translate(645 5523) rotate(-32)" text-anchor="middle" y="40">树图 shutu.cn</text>
<text transform="translate(1928 515) rotate(-32)" text-anchor="middle" y="40">树图 shutu.cn</text>
<text transform="translate(1928 1522) rotate(-32)" text-anchor="middle" y="40">树图 shutu.cn</text>
<text transform="translate(1928 2532) rotate(-32)" text-anchor="middle" y="40">树图 shutu.cn</text>
<text transform="translate(1928 3520) rotate(-32)" text-anchor="middle" y="40">树图 shutu.cn</text>
<text transform="translate(1928 4519) rotate(-32)" text-anchor="middle" y="40">树图 shutu.cn</text>
<text transform="translate(1928 5523) rotate(-32)" text-anchor="middle" y="40">树图 shutu.cn</text>
</g>
</g>
</svg>
